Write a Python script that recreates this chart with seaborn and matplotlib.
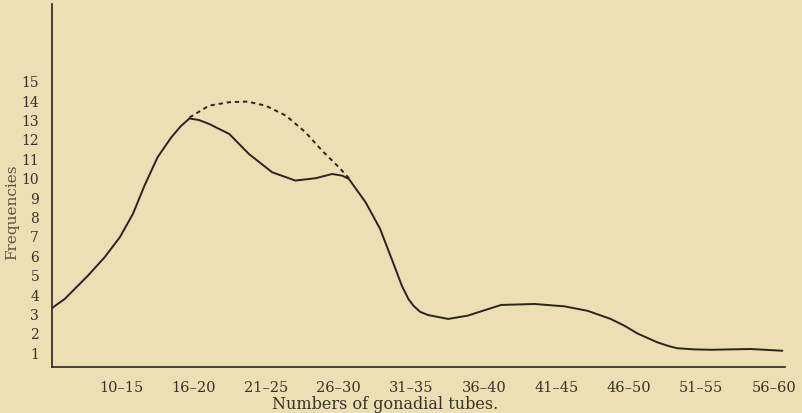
import matplotlib
matplotlib.use("Agg")
import matplotlib.pyplot as plt
import seaborn as sns
import pandas as pd

# Category labels on the x axis (positions 0..9)
categories = ["10–15", "16–20", "21–25", "26–30", "31–35",
              "36–40", "41–45", "46–50", "51–55", "56–60"]
y_ticks = list(range(1, 16))

# Main frequency curve (x in category-index units)
curve_x = [-0.96, -0.78, -0.46, -0.23, -0.02, 0.16, 0.32, 0.50, 0.69, 0.82, 0.94,
           1.07, 1.21, 1.49, 1.76, 2.08, 2.40, 2.68, 2.91, 3.05, 3.14, 3.37, 3.57,
           3.73, 3.87, 3.96, 4.03, 4.12, 4.23, 4.51, 4.78, 4.92, 5.24, 5.70, 6.11,
           6.43, 6.75, 6.94, 7.12, 7.39, 7.55, 7.67, 7.90, 8.13, 8.68, 9.12]
curve_y = [3.27, 3.75, 4.95, 5.90, 6.93, 8.13, 9.59, 11.05, 12.08, 12.65, 13.05,
           12.97, 12.77, 12.25, 11.22, 10.28, 9.85, 9.97, 10.19, 10.10, 9.93, 8.73, 7.36,
           5.81, 4.43, 3.75, 3.40, 3.09, 2.92, 2.72, 2.89, 3.06, 3.44, 3.49, 3.37,
           3.14, 2.72, 2.37, 1.97, 1.52, 1.32, 1.21, 1.15, 1.13, 1.17, 1.08]

# Dashed (expected) curve between 16-20 and 26-30
dash_x = [0.94, 1.21, 1.49, 1.74, 1.99, 2.27, 2.54, 2.77, 3.00, 3.14]
dash_y = [13.10, 13.71, 13.89, 13.92, 13.71, 13.20, 12.34, 11.39, 10.54, 9.97]

bg = "#ecdfb4"
ink = "#2b241a"
txt = "#3a3226"

sns.set_theme(style="white")
plt.rcParams["font.family"] = ["DejaVu Serif", "Liberation Serif"]

fig = plt.figure(figsize=(8.03, 4.14), dpi=100, facecolor=bg)
ax = fig.add_axes([0.0644, 0.111, 0.9136, 0.877])
ax.set_facecolor(bg)

df_main = pd.DataFrame({"x": curve_x, "y": curve_y})
df_dash = pd.DataFrame({"x": dash_x, "y": dash_y})

sns.lineplot(data=df_main, x="x", y="y", sort=False, estimator=None,
             color=ink, linewidth=1.4, ax=ax)
sns.lineplot(data=df_dash, x="x", y="y", sort=False, estimator=None,
             color=ink, linewidth=1.4, linestyle=(0, (2.2, 2.0)), ax=ax)

ax.set_xlim(-0.96, 9.16)
ax.set_ylim(0.24, 18.95)

ax.set_xticks(range(len(categories)))
ax.set_xticklabels(categories)
ax.set_yticks(y_ticks)
ax.set_yticklabels([str(v) for v in y_ticks])

ax.tick_params(axis="y", direction="in", length=3, width=0.8, colors=ink,
               labelsize=10, pad=9, labelcolor=txt)
ax.tick_params(axis="x", direction="in", length=2, width=0.8, colors=ink,
               labelsize=10.5, pad=9.5, labelcolor=txt)

for s in ["top", "right"]:
    ax.spines[s].set_visible(False)
for s in ["left", "bottom"]:
    ax.spines[s].set_color(ink)
    ax.spines[s].set_linewidth(1.2)

ax.set_xlabel("Numbers of gonadial tubes.", fontsize=11.5, color=txt)
ax.set_ylabel("Frequencies", fontsize=11, color="#5a5040")
ax.xaxis.set_label_coords(0.455, -0.077)
ax.yaxis.set_label_coords(-0.044, 0.43)

fig.savefig("out.png", dpi=100, facecolor=bg)
